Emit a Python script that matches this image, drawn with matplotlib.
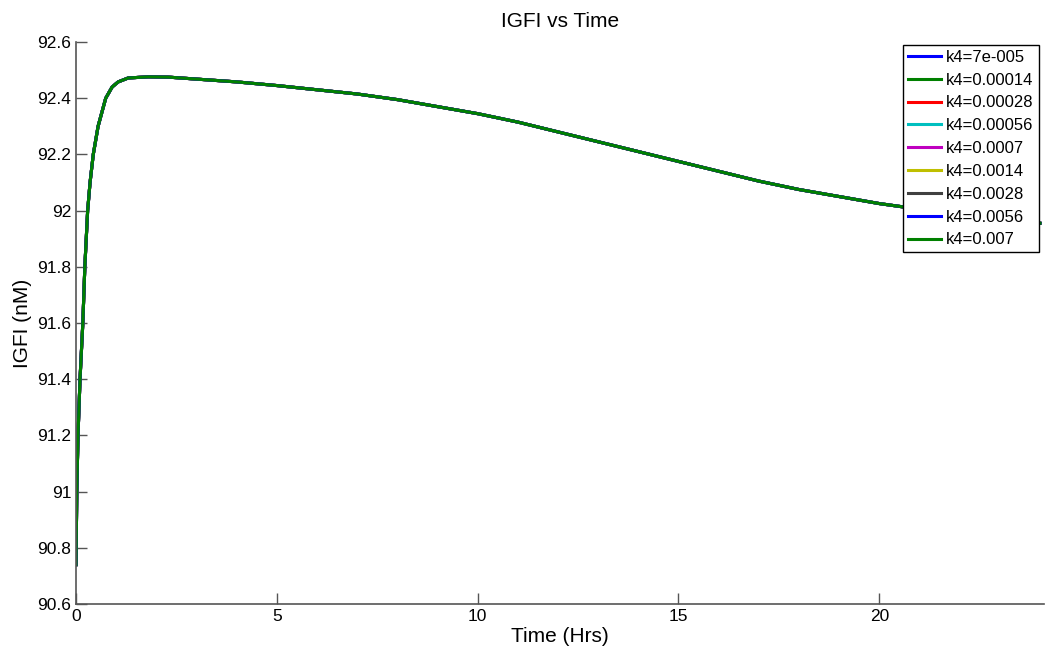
import matplotlib
matplotlib.use("Agg")
import matplotlib.pyplot as plt

plt.rcParams['font.family'] = ['Liberation Sans', 'DejaVu Sans']

# time points (hrs) and IGFI concentration (nM)
time = [0, 0.02, 0.05, 0.1, 0.17, 0.22, 0.29, 0.35, 0.43, 0.55, 0.74, 0.9,
        1.05, 1.3, 1.8, 2.3, 3, 4, 5, 6, 7, 8, 9, 10, 11, 12, 13, 14, 15, 16,
        17, 18, 19, 20, 21, 22, 23, 24]
igfi = [90.74, 91.0, 91.2, 91.4, 91.6, 91.8, 92.0, 92.1, 92.2, 92.3, 92.4,
        92.44, 92.458, 92.472, 92.476, 92.475, 92.468, 92.458, 92.445, 92.43,
        92.415, 92.395, 92.37, 92.345, 92.315, 92.28, 92.245, 92.21, 92.175,
        92.14, 92.105, 92.075, 92.05, 92.025, 92.005, 91.985, 91.97, 91.955]

k4_labels = ['7e-005', '0.00014', '0.00028', '0.00056', '0.0007',
             '0.0014', '0.0028', '0.0056', '0.007']
line_colors = ['#0000ff', '#008000', '#ff0000', '#00bfbf', '#bf00bf',
               '#bfbf00', '#404040', '#0000ff', '#008000']

fig = plt.figure(figsize=(10.46, 6.6), dpi=100)
ax = fig.add_axes([76 / 1046, 1 - 604 / 660, (1044 - 76) / 1046, (604 - 42) / 660])

# all k4 values give the same curve, later lines are drawn on top
for lab, col in zip(k4_labels, line_colors):
    ax.plot(time, igfi, color=col, linewidth=2.2, label='k4=' + lab)

ax.set_xlim(0, 24.1)
ax.set_ylim(90.6, 92.6)
ax.set_xticks([0, 5, 10, 15, 20])
ax.set_yticks([90.6, 90.8, 91, 91.2, 91.4, 91.6, 91.8, 92, 92.2, 92.4, 92.6])
ax.set_yticklabels(['90.6', '90.8', '91', '91.2', '91.4', '91.6', '91.8',
                    '92', '92.2', '92.4', '92.6'])

ax.spines['top'].set_visible(False)
ax.spines['right'].set_visible(False)
for s in ['left', 'bottom']:
    ax.spines[s].set_color('#555555')
    ax.spines[s].set_linewidth(1.2)
ax.tick_params(direction='in', length=8, width=1, colors='#555555',
               labelcolor='black', labelsize=12.5)

ax.set_title('IGFI vs Time', fontsize=15, pad=11)
ax.set_xlabel('Time (Hrs)', fontsize=15, labelpad=2)
ax.set_ylabel('IGFI (nM)', fontsize=15, labelpad=4)

leg = ax.legend(loc='upper right', bbox_to_anchor=(0.9945, 0.995), fontsize=12,
                fancybox=False, framealpha=1, edgecolor='black',
                handlelength=2.0, handletextpad=0.3, labelspacing=0.47,
                borderpad=0.3, borderaxespad=0)
leg.get_frame().set_linewidth(1.0)

fig.savefig('out.png', dpi=100)
